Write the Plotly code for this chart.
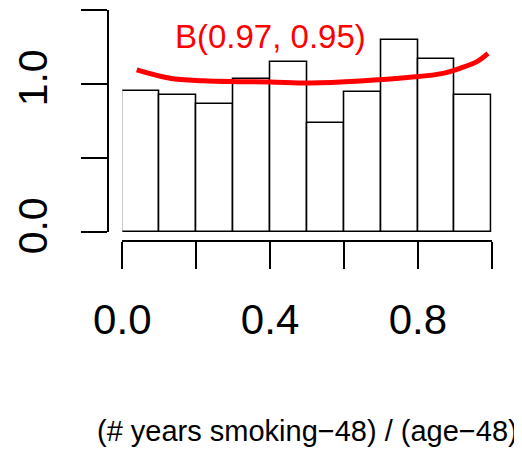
import plotly.graph_objects as go

# ---- data ----
bin_centers = [0.05, 0.15, 0.25, 0.35, 0.45, 0.55, 0.65, 0.75, 0.85, 0.95]
bin_heights = [0.953, 0.928, 0.863, 1.036, 1.146, 0.734, 0.948, 1.295, 1.167, 0.928]
bin_width = 0.1

curve_x = [0.039, 0.129, 0.218, 0.311, 0.40, 0.508, 0.644, 0.779, 0.868, 0.914, 0.960, 0.990]
curve_y = [1.095, 1.039, 1.022, 1.016, 1.014, 1.007, 1.020, 1.045, 1.072, 1.106, 1.151, 1.207]

x_tickvals = [0.0, 0.2, 0.4, 0.6, 0.8, 1.0]
x_ticktext = ["0.0", "", "0.4", "", "0.8", ""]
y_tickvals = [0.0, 0.5, 1.0, 1.5]
y_ticktext = ["0.0", "", "1.0", ""]

curve_label = "B(0.97, 0.95)"
x_title = "(# years smoking\u221248) / (age\u221248)"

# the page body has an 8px margin, so the figure is drawn 8px smaller
# and every target pixel position is shifted by 8px
OFF = 8
W, H = 522 - OFF, 449 - OFF
FONT = "Liberation Sans, Arial, Helvetica, sans-serif"


def px(v):
    return (v - OFF) / W


def py(v):
    return 1 - (v - OFF) / H


fig = go.Figure()
fig.add_trace(go.Bar(
    x=bin_centers, y=bin_heights, width=bin_width,
    marker=dict(color="white", line=dict(color="black", width=1.6)),
    showlegend=False, hoverinfo="skip",
))
fig.add_trace(go.Scatter(
    x=curve_x, y=curve_y, mode="lines",
    line=dict(color="#ff0000", width=5, shape="spline"),
    showlegend=False, hoverinfo="skip",
))

fig.add_annotation(x=0.40, y=1.32, xref="x", yref="y", text=curve_label,
                   showarrow=False, font=dict(family=FONT, size=33, color="#ff0000"),
                   xanchor="center", yanchor="middle")
fig.add_annotation(x=0.5, y=py(431), xref="x", yref="paper", text=x_title,
                   showarrow=False, font=dict(family=FONT, size=29, color="black"),
                   xanchor="center", yanchor="middle")

fig.update_layout(
    width=W, height=H,
    margin=dict(l=0, r=0, t=0, b=0, autoexpand=False),
    paper_bgcolor="white", plot_bgcolor="white",
    bargap=0,
    xaxis=dict(
        domain=[px(122.3), px(491.7)], range=[0, 1],
        anchor="free", position=py(241), automargin=False,
        showline=True, linecolor="black", linewidth=1.6,
        ticks="outside", ticklen=27, tickwidth=1.6, tickcolor="black",
        tickvals=x_tickvals, ticktext=x_ticktext,
        tickfont=dict(family=FONT, size=42, color="black"),
        ticklabelstandoff=15,
        showgrid=False, zeroline=False, fixedrange=True,
    ),
    yaxis=dict(
        domain=[py(232), py(10)], range=[0, 1.5],
        anchor="free", position=px(108), automargin=False,
        showline=True, linecolor="black", linewidth=1.6,
        ticks="outside", ticklen=26, tickwidth=1.6, tickcolor="black",
        tickvals=y_tickvals, ticktext=y_ticktext, tickangle=-90,
        tickfont=dict(family=FONT, size=41, color="black"),
        ticklabelstandoff=18,
        showgrid=False, zeroline=False, fixedrange=True,
    ),
)

fig.write_html("out.html")
